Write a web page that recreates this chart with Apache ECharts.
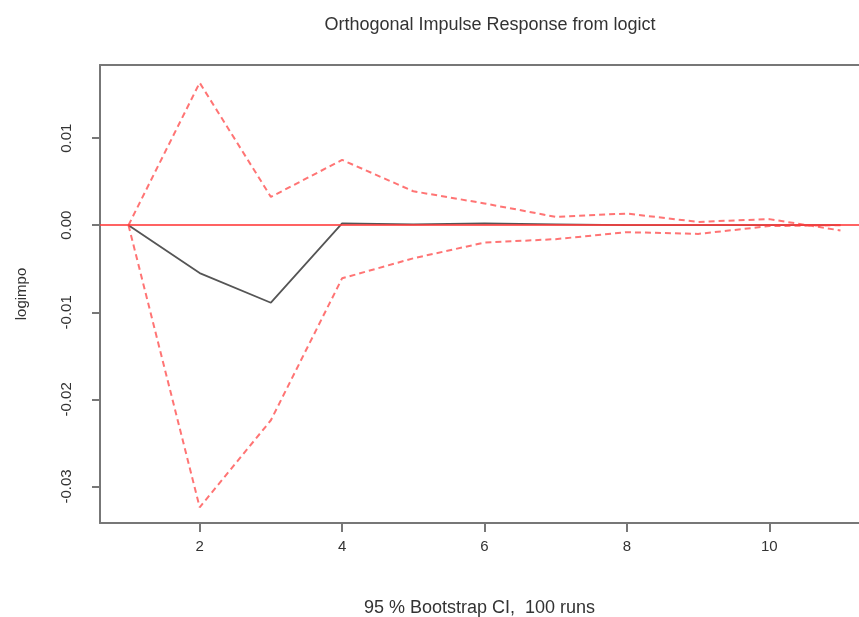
<!DOCTYPE html>
<html>
<head>
<meta charset="utf-8">
<script src="https://cdn.jsdelivr.net/npm/echarts@6/dist/echarts.min.js"></script>
<style>
  html, body { margin: 0; padding: 0; background: #fff; }
  #main { width: 859px; height: 617px; }
</style>
</head>
<body>
<div id="main"></div>
<script>
// horizons 1..11
var horizon = [1, 2, 3, 4, 5, 6, 7, 8, 9, 10, 11];
var response = [0, -0.0055, -0.0089, 0.0002, 0.0001, 0.0002, 0.0001, 0, 0, 0, 0];
var upperCI = [0, 0.01636, 0.00325, 0.0075, 0.0039, 0.0025, 0.00096, 0.00134, 0.00038, 0.0007, -0.0006];
var lowerCI = [0, -0.0324, -0.0224, -0.0061, -0.0038, -0.002, -0.0016, -0.0008, -0.001, -0.0001, 0];
var xTicks = [2, 4, 6, 8, 10];
var yTicks = [-0.03, -0.02, -0.01, 0, 0.01];

function pairs(vals) {
    var res = [];
    for (var i = 0; i < horizon.length; i++) {
        res.push([horizon[i], vals[i]]);
    }
    return res;
}

var font = '"Liberation Sans", Arial, sans-serif';
var txt = '#333';
var boxLine = { color: '#777', width: 2 };

// plot box runs past the right edge of the picture (R xlim 0.6..11.4),
// so the axis stops at the canvas edge
var option = {
    animation: false,
    title: {
        text: 'Orthogonal Impulse Response from logict',
        left: 485,
        top: 11,
        textAlign: 'center',
        textStyle: { fontFamily: font, fontSize: 18, fontWeight: 'normal', color: txt }
    },
    grid: {
        left: 100,
        top: 65,
        right: 0,
        bottom: 94,
        outerBoundsMode: 'none'
    },
    xAxis: [{
        type: 'value',
        min: 0.6,
        max: 11.26,
        name: '95 % Bootstrap CI,  100 runs',
        nameLocation: 'middle',
        nameGap: 76,
        nameTextStyle: { fontFamily: font, fontSize: 18, color: txt },
        splitLine: { show: false },
        axisLine: { show: true, onZero: false, lineStyle: boxLine },
        axisTick: { show: true, length: 9, customValues: xTicks, lineStyle: boxLine },
        axisLabel: {
            customValues: xTicks,
            margin: 16,
            fontFamily: font,
            fontSize: 15,
            color: txt
        }
    }, {
        // top edge of the box
        type: 'value',
        position: 'top',
        min: 0.6,
        max: 11.26,
        splitLine: { show: false },
        axisLine: { show: true, onZero: false, lineStyle: boxLine },
        axisTick: { show: false },
        axisLabel: { show: false }
    }],
    yAxis: {
        type: 'value',
        min: -0.0342,
        max: 0.0184,
        name: 'logimpo',
        nameLocation: 'middle',
        nameGap: 71,
        nameRotate: 90,
        nameTextStyle: { fontFamily: font, fontSize: 15, color: txt },
        splitLine: { show: false },
        axisLine: { show: true, onZero: false, lineStyle: boxLine },
        axisTick: { show: true, length: 8, customValues: yTicks, lineStyle: boxLine },
        axisLabel: {
            customValues: yTicks,
            rotate: 90,
            margin: 26,
            fontFamily: font,
            fontSize: 15,
            color: txt,
            formatter: function (v) { return v.toFixed(2); }
        }
    },
    series: [
        {
            name: 'logimpo',
            type: 'line',
            data: pairs(response),
            symbol: 'none',
            lineStyle: { color: '#555', width: 1.8 },
            z: 2
        },
        {
            name: 'upper',
            type: 'line',
            data: pairs(upperCI),
            symbol: 'none',
            lineStyle: { color: 'rgba(255,70,70,0.75)', width: 2, type: [6, 4] },
            z: 3
        },
        {
            name: 'lower',
            type: 'line',
            data: pairs(lowerCI),
            symbol: 'none',
            lineStyle: { color: 'rgba(255,70,70,0.75)', width: 2, type: [6, 4] },
            z: 3,
            markLine: {
                silent: true,
                symbol: 'none',
                label: { show: false },
                lineStyle: { color: 'rgba(255,60,60,0.8)', width: 1.8, type: 'solid' },
                data: [{ yAxis: 0 }]
            }
        }
    ]
};

var chart = echarts.init(document.getElementById('main'));
chart.setOption(option);
</script>
</body>
</html>
